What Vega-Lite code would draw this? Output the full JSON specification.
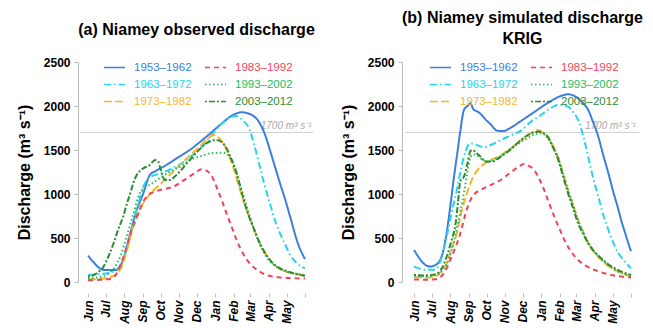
{
  "$schema": "https://vega.github.io/schema/vega-lite/v6.json",
  "autosize": "none",
  "padding": {"left": 88, "top": 62, "right": 565, "bottom": 266},
  "background": "white",
  "data": {"values": [
    {"p":"a","s":"1953–1962","d":0,"q":300},{"p":"a","s":"1953–1962","d":10,"q":220},{"p":"a","s":"1953–1962","d":20,"q":155},{"p":"a","s":"1953–1962","d":30,"q":135},{"p":"a","s":"1953–1962","d":48,"q":136},{"p":"a","s":"1953–1962","d":59,"q":250},{"p":"a","s":"1953–1962","d":71,"q":553},{"p":"a","s":"1953–1962","d":82,"q":818},{"p":"a","s":"1953–1962","d":93,"q":1008},{"p":"a","s":"1953–1962","d":104,"q":1216},{"p":"a","s":"1953–1962","d":115,"q":1265},{"p":"a","s":"1953–1962","d":132,"q":1330},{"p":"a","s":"1953–1962","d":149,"q":1405},{"p":"a","s":"1953–1962","d":171,"q":1500},{"p":"a","s":"1953–1962","d":199,"q":1651},{"p":"a","s":"1953–1962","d":222,"q":1784},{"p":"a","s":"1953–1962","d":244,"q":1898},{"p":"a","s":"1953–1962","d":258,"q":1928},{"p":"a","s":"1953–1962","d":272,"q":1909},{"p":"a","s":"1953–1962","d":289,"q":1803},{"p":"a","s":"1953–1962","d":298,"q":1670},{"p":"a","s":"1953–1962","d":306,"q":1500},{"p":"a","s":"1953–1962","d":314,"q":1320},{"p":"a","s":"1953–1962","d":323,"q":1121},{"p":"a","s":"1953–1962","d":332,"q":930},{"p":"a","s":"1953–1962","d":340,"q":742},{"p":"a","s":"1953–1962","d":353,"q":440},{"p":"a","s":"1953–1962","d":365,"q":260},
    {"p":"a","s":"1963–1972","d":0,"q":80},{"p":"a","s":"1963–1972","d":20,"q":90},{"p":"a","s":"1963–1972","d":40,"q":110},{"p":"a","s":"1963–1972","d":55,"q":200},{"p":"a","s":"1963–1972","d":65,"q":380},{"p":"a","s":"1963–1972","d":75,"q":640},{"p":"a","s":"1963–1972","d":85,"q":900},{"p":"a","s":"1963–1972","d":93,"q":1080},{"p":"a","s":"1963–1972","d":104,"q":1190},{"p":"a","s":"1963–1972","d":115,"q":1220},{"p":"a","s":"1963–1972","d":135,"q":1270},{"p":"a","s":"1963–1972","d":153,"q":1330},{"p":"a","s":"1963–1972","d":170,"q":1410},{"p":"a","s":"1963–1972","d":192,"q":1540},{"p":"a","s":"1963–1972","d":214,"q":1720},{"p":"a","s":"1963–1972","d":230,"q":1830},{"p":"a","s":"1963–1972","d":247,"q":1886},{"p":"a","s":"1963–1972","d":260,"q":1840},{"p":"a","s":"1963–1972","d":272,"q":1727},{"p":"a","s":"1963–1972","d":280,"q":1550},{"p":"a","s":"1963–1972","d":289,"q":1310},{"p":"a","s":"1963–1972","d":297,"q":1100},{"p":"a","s":"1963–1972","d":306,"q":894},{"p":"a","s":"1963–1972","d":314,"q":710},{"p":"a","s":"1963–1972","d":323,"q":553},{"p":"a","s":"1963–1972","d":332,"q":420},{"p":"a","s":"1963–1972","d":340,"q":307},{"p":"a","s":"1963–1972","d":352,"q":210},{"p":"a","s":"1963–1972","d":365,"q":155},
    {"p":"a","s":"1973–1982","d":0,"q":30},{"p":"a","s":"1973–1982","d":20,"q":35},{"p":"a","s":"1973–1982","d":40,"q":60},{"p":"a","s":"1973–1982","d":55,"q":150},{"p":"a","s":"1973–1982","d":65,"q":350},{"p":"a","s":"1973–1982","d":75,"q":600},{"p":"a","s":"1973–1982","d":85,"q":780},{"p":"a","s":"1973–1982","d":95,"q":920},{"p":"a","s":"1973–1982","d":101,"q":970},{"p":"a","s":"1973–1982","d":110,"q":1040},{"p":"a","s":"1973–1982","d":120,"q":1100},{"p":"a","s":"1973–1982","d":135,"q":1200},{"p":"a","s":"1973–1982","d":150,"q":1300},{"p":"a","s":"1973–1982","d":170,"q":1430},{"p":"a","s":"1973–1982","d":185,"q":1520},{"p":"a","s":"1973–1982","d":200,"q":1620},{"p":"a","s":"1973–1982","d":211,"q":1670},{"p":"a","s":"1973–1982","d":220,"q":1640},{"p":"a","s":"1973–1982","d":232,"q":1520},{"p":"a","s":"1973–1982","d":244,"q":1310},{"p":"a","s":"1973–1982","d":255,"q":1060},{"p":"a","s":"1973–1982","d":267,"q":818},{"p":"a","s":"1973–1982","d":278,"q":620},{"p":"a","s":"1973–1982","d":289,"q":440},{"p":"a","s":"1973–1982","d":300,"q":300},{"p":"a","s":"1973–1982","d":311,"q":212},{"p":"a","s":"1973–1982","d":325,"q":140},{"p":"a","s":"1973–1982","d":345,"q":99},{"p":"a","s":"1973–1982","d":365,"q":70},
    {"p":"a","s":"1983–1992","d":0,"q":20},{"p":"a","s":"1983–1992","d":20,"q":25},{"p":"a","s":"1983–1992","d":40,"q":40},{"p":"a","s":"1983–1992","d":50,"q":120},{"p":"a","s":"1983–1992","d":58,"q":250},{"p":"a","s":"1983–1992","d":65,"q":400},{"p":"a","s":"1983–1992","d":73,"q":580},{"p":"a","s":"1983–1992","d":82,"q":742},{"p":"a","s":"1983–1992","d":92,"q":900},{"p":"a","s":"1983–1992","d":101,"q":989},{"p":"a","s":"1983–1992","d":110,"q":1020},{"p":"a","s":"1983–1992","d":121,"q":1045},{"p":"a","s":"1983–1992","d":143,"q":1083},{"p":"a","s":"1983–1992","d":166,"q":1178},{"p":"a","s":"1983–1992","d":180,"q":1240},{"p":"a","s":"1983–1992","d":191,"q":1280},{"p":"a","s":"1983–1992","d":202,"q":1253},{"p":"a","s":"1983–1992","d":210,"q":1180},{"p":"a","s":"1983–1992","d":216,"q":1083},{"p":"a","s":"1983–1992","d":225,"q":930},{"p":"a","s":"1983–1992","d":233,"q":780},{"p":"a","s":"1983–1992","d":242,"q":620},{"p":"a","s":"1983–1992","d":250,"q":477},{"p":"a","s":"1983–1992","d":261,"q":320},{"p":"a","s":"1983–1992","d":272,"q":212},{"p":"a","s":"1983–1992","d":286,"q":130},{"p":"a","s":"1983–1992","d":300,"q":80},{"p":"a","s":"1983–1992","d":320,"q":55},{"p":"a","s":"1983–1992","d":340,"q":45},{"p":"a","s":"1983–1992","d":365,"q":40},
    {"p":"a","s":"1993–2002","d":0,"q":40},{"p":"a","s":"1993–2002","d":15,"q":50},{"p":"a","s":"1993–2002","d":30,"q":80},{"p":"a","s":"1993–2002","d":45,"q":170},{"p":"a","s":"1993–2002","d":55,"q":300},{"p":"a","s":"1993–2002","d":65,"q":520},{"p":"a","s":"1993–2002","d":75,"q":740},{"p":"a","s":"1993–2002","d":87,"q":1008},{"p":"a","s":"1993–2002","d":99,"q":1083},{"p":"a","s":"1993–2002","d":110,"q":1130},{"p":"a","s":"1993–2002","d":125,"q":1200},{"p":"a","s":"1993–2002","d":140,"q":1260},{"p":"a","s":"1993–2002","d":155,"q":1310},{"p":"a","s":"1993–2002","d":170,"q":1380},{"p":"a","s":"1993–2002","d":190,"q":1430},{"p":"a","s":"1993–2002","d":205,"q":1460},{"p":"a","s":"1993–2002","d":227,"q":1470},{"p":"a","s":"1993–2002","d":240,"q":1400},{"p":"a","s":"1993–2002","d":248,"q":1280},{"p":"a","s":"1993–2002","d":255,"q":1121},{"p":"a","s":"1993–2002","d":266,"q":880},{"p":"a","s":"1993–2002","d":278,"q":628},{"p":"a","s":"1993–2002","d":289,"q":430},{"p":"a","s":"1993–2002","d":300,"q":288},{"p":"a","s":"1993–2002","d":315,"q":180},{"p":"a","s":"1993–2002","d":334,"q":117},{"p":"a","s":"1993–2002","d":350,"q":95},{"p":"a","s":"1993–2002","d":365,"q":80},
    {"p":"a","s":"2003–2012","d":0,"q":60},{"p":"a","s":"2003–2012","d":15,"q":100},{"p":"a","s":"2003–2012","d":26,"q":174},{"p":"a","s":"2003–2012","d":35,"q":300},{"p":"a","s":"2003–2012","d":43,"q":440},{"p":"a","s":"2003–2012","d":51,"q":600},{"p":"a","s":"2003–2012","d":59,"q":742},{"p":"a","s":"2003–2012","d":65,"q":880},{"p":"a","s":"2003–2012","d":71,"q":1008},{"p":"a","s":"2003–2012","d":76,"q":1120},{"p":"a","s":"2003–2012","d":82,"q":1216},{"p":"a","s":"2003–2012","d":87,"q":1260},{"p":"a","s":"2003–2012","d":93,"q":1292},{"p":"a","s":"2003–2012","d":104,"q":1330},{"p":"a","s":"2003–2012","d":113,"q":1386},{"p":"a","s":"2003–2012","d":118,"q":1370},{"p":"a","s":"2003–2012","d":121,"q":1310},{"p":"a","s":"2003–2012","d":125,"q":1220},{"p":"a","s":"2003–2012","d":129,"q":1159},{"p":"a","s":"2003–2012","d":138,"q":1159},{"p":"a","s":"2003–2012","d":146,"q":1200},{"p":"a","s":"2003–2012","d":155,"q":1260},{"p":"a","s":"2003–2012","d":165,"q":1340},{"p":"a","s":"2003–2012","d":177,"q":1430},{"p":"a","s":"2003–2012","d":188,"q":1510},{"p":"a","s":"2003–2012","d":199,"q":1576},{"p":"a","s":"2003–2012","d":208,"q":1605},{"p":"a","s":"2003–2012","d":216,"q":1614},{"p":"a","s":"2003–2012","d":225,"q":1590},{"p":"a","s":"2003–2012","d":233,"q":1519},{"p":"a","s":"2003–2012","d":241,"q":1400},{"p":"a","s":"2003–2012","d":250,"q":1235},{"p":"a","s":"2003–2012","d":258,"q":1030},{"p":"a","s":"2003–2012","d":267,"q":818},{"p":"a","s":"2003–2012","d":278,"q":620},{"p":"a","s":"2003–2012","d":289,"q":440},{"p":"a","s":"2003–2012","d":300,"q":310},{"p":"a","s":"2003–2012","d":311,"q":212},{"p":"a","s":"2003–2012","d":325,"q":150},{"p":"a","s":"2003–2012","d":345,"q":100},{"p":"a","s":"2003–2012","d":365,"q":70},
    {"p":"b","s":"1953–1962","d":0,"q":364},{"p":"b","s":"1953–1962","d":8,"q":280},{"p":"b","s":"1953–1962","d":16,"q":212},{"p":"b","s":"1953–1962","d":27,"q":175},{"p":"b","s":"1953–1962","d":35,"q":190},{"p":"b","s":"1953–1962","d":41,"q":220},{"p":"b","s":"1953–1962","d":47,"q":300},{"p":"b","s":"1953–1962","d":54,"q":520},{"p":"b","s":"1953–1962","d":61,"q":856},{"p":"b","s":"1953–1962","d":66,"q":1130},{"p":"b","s":"1953–1962","d":72,"q":1424},{"p":"b","s":"1953–1962","d":78,"q":1720},{"p":"b","s":"1953–1962","d":84,"q":1955},{"p":"b","s":"1953–1962","d":90,"q":2000},{"p":"b","s":"1953–1962","d":95,"q":2030},{"p":"b","s":"1953–1962","d":100,"q":1960},{"p":"b","s":"1953–1962","d":106,"q":1940},{"p":"b","s":"1953–1962","d":112,"q":1910},{"p":"b","s":"1953–1962","d":120,"q":1850},{"p":"b","s":"1953–1962","d":129,"q":1790},{"p":"b","s":"1953–1962","d":140,"q":1720},{"p":"b","s":"1953–1962","d":150,"q":1715},{"p":"b","s":"1953–1962","d":163,"q":1755},{"p":"b","s":"1953–1962","d":180,"q":1830},{"p":"b","s":"1953–1962","d":202,"q":1930},{"p":"b","s":"1953–1962","d":225,"q":2035},{"p":"b","s":"1953–1962","d":247,"q":2114},{"p":"b","s":"1953–1962","d":259,"q":2133},{"p":"b","s":"1953–1962","d":268,"q":2120},{"p":"b","s":"1953–1962","d":276,"q":2087},{"p":"b","s":"1953–1962","d":285,"q":2030},{"p":"b","s":"1953–1962","d":293,"q":1955},{"p":"b","s":"1953–1962","d":301,"q":1820},{"p":"b","s":"1953–1962","d":310,"q":1651},{"p":"b","s":"1953–1962","d":318,"q":1450},{"p":"b","s":"1953–1962","d":327,"q":1235},{"p":"b","s":"1953–1962","d":335,"q":1030},{"p":"b","s":"1953–1962","d":344,"q":818},{"p":"b","s":"1953–1962","d":349,"q":690},{"p":"b","s":"1953–1962","d":355,"q":560},{"p":"b","s":"1953–1962","d":360,"q":450},{"p":"b","s":"1953–1962","d":365,"q":350},
    {"p":"b","s":"1963–1972","d":0,"q":174},{"p":"b","s":"1963–1972","d":10,"q":150},{"p":"b","s":"1963–1972","d":20,"q":140},{"p":"b","s":"1963–1972","d":35,"q":140},{"p":"b","s":"1963–1972","d":45,"q":250},{"p":"b","s":"1963–1972","d":55,"q":515},{"p":"b","s":"1963–1972","d":63,"q":780},{"p":"b","s":"1963–1972","d":72,"q":1045},{"p":"b","s":"1963–1972","d":78,"q":1250},{"p":"b","s":"1963–1972","d":84,"q":1424},{"p":"b","s":"1963–1972","d":90,"q":1540},{"p":"b","s":"1963–1972","d":95,"q":1576},{"p":"b","s":"1963–1972","d":100,"q":1570},{"p":"b","s":"1963–1972","d":106,"q":1555},{"p":"b","s":"1963–1972","d":112,"q":1540},{"p":"b","s":"1963–1972","d":120,"q":1535},{"p":"b","s":"1963–1972","d":130,"q":1560},{"p":"b","s":"1963–1972","d":146,"q":1614},{"p":"b","s":"1963–1972","d":163,"q":1665},{"p":"b","s":"1963–1972","d":180,"q":1720},{"p":"b","s":"1963–1972","d":197,"q":1822},{"p":"b","s":"1963–1972","d":212,"q":1890},{"p":"b","s":"1963–1972","d":225,"q":1955},{"p":"b","s":"1963–1972","d":235,"q":1995},{"p":"b","s":"1963–1972","d":242,"q":2011},{"p":"b","s":"1963–1972","d":250,"q":2008},{"p":"b","s":"1963–1972","d":259,"q":1992},{"p":"b","s":"1963–1972","d":268,"q":1930},{"p":"b","s":"1963–1972","d":276,"q":1841},{"p":"b","s":"1963–1972","d":285,"q":1650},{"p":"b","s":"1963–1972","d":293,"q":1424},{"p":"b","s":"1963–1972","d":301,"q":1190},{"p":"b","s":"1963–1972","d":310,"q":970},{"p":"b","s":"1963–1972","d":318,"q":770},{"p":"b","s":"1963–1972","d":327,"q":591},{"p":"b","s":"1963–1972","d":335,"q":450},{"p":"b","s":"1963–1972","d":344,"q":326},{"p":"b","s":"1963–1972","d":355,"q":230},{"p":"b","s":"1963–1972","d":365,"q":155},
    {"p":"b","s":"1973–1982","d":0,"q":60},{"p":"b","s":"1973–1982","d":15,"q":50},{"p":"b","s":"1973–1982","d":30,"q":55},{"p":"b","s":"1973–1982","d":45,"q":110},{"p":"b","s":"1973–1982","d":55,"q":212},{"p":"b","s":"1973–1982","d":63,"q":370},{"p":"b","s":"1973–1982","d":72,"q":553},{"p":"b","s":"1973–1982","d":80,"q":800},{"p":"b","s":"1973–1982","d":89,"q":1008},{"p":"b","s":"1973–1982","d":100,"q":1200},{"p":"b","s":"1973–1982","d":112,"q":1310},{"p":"b","s":"1973–1982","d":125,"q":1370},{"p":"b","s":"1973–1982","d":146,"q":1440},{"p":"b","s":"1973–1982","d":163,"q":1520},{"p":"b","s":"1973–1982","d":180,"q":1610},{"p":"b","s":"1973–1982","d":191,"q":1660},{"p":"b","s":"1973–1982","d":200,"q":1705},{"p":"b","s":"1973–1982","d":208,"q":1727},{"p":"b","s":"1973–1982","d":216,"q":1700},{"p":"b","s":"1973–1982","d":225,"q":1651},{"p":"b","s":"1973–1982","d":233,"q":1560},{"p":"b","s":"1973–1982","d":242,"q":1424},{"p":"b","s":"1973–1982","d":250,"q":1250},{"p":"b","s":"1973–1982","d":259,"q":1045},{"p":"b","s":"1973–1982","d":268,"q":870},{"p":"b","s":"1973–1982","d":276,"q":705},{"p":"b","s":"1973–1982","d":285,"q":560},{"p":"b","s":"1973–1982","d":293,"q":440},{"p":"b","s":"1973–1982","d":304,"q":330},{"p":"b","s":"1973–1982","d":315,"q":250},{"p":"b","s":"1973–1982","d":326,"q":185},{"p":"b","s":"1973–1982","d":338,"q":136},{"p":"b","s":"1973–1982","d":350,"q":100},{"p":"b","s":"1973–1982","d":365,"q":60},
    {"p":"b","s":"1983–1992","d":0,"q":30},{"p":"b","s":"1983–1992","d":20,"q":25},{"p":"b","s":"1983–1992","d":35,"q":30},{"p":"b","s":"1983–1992","d":45,"q":60},{"p":"b","s":"1983–1992","d":53,"q":130},{"p":"b","s":"1983–1992","d":61,"q":250},{"p":"b","s":"1983–1992","d":70,"q":400},{"p":"b","s":"1983–1992","d":78,"q":553},{"p":"b","s":"1983–1992","d":86,"q":760},{"p":"b","s":"1983–1992","d":95,"q":932},{"p":"b","s":"1983–1992","d":103,"q":1008},{"p":"b","s":"1983–1992","d":112,"q":1045},{"p":"b","s":"1983–1992","d":123,"q":1083},{"p":"b","s":"1983–1992","d":135,"q":1120},{"p":"b","s":"1983–1992","d":146,"q":1159},{"p":"b","s":"1983–1992","d":157,"q":1215},{"p":"b","s":"1983–1992","d":168,"q":1273},{"p":"b","s":"1983–1992","d":177,"q":1315},{"p":"b","s":"1983–1992","d":185,"q":1340},{"p":"b","s":"1983–1992","d":193,"q":1320},{"p":"b","s":"1983–1992","d":202,"q":1273},{"p":"b","s":"1983–1992","d":210,"q":1180},{"p":"b","s":"1983–1992","d":219,"q":1045},{"p":"b","s":"1983–1992","d":227,"q":900},{"p":"b","s":"1983–1992","d":236,"q":742},{"p":"b","s":"1983–1992","d":245,"q":600},{"p":"b","s":"1983–1992","d":253,"q":477},{"p":"b","s":"1983–1992","d":264,"q":350},{"p":"b","s":"1983–1992","d":276,"q":250},{"p":"b","s":"1983–1992","d":290,"q":180},{"p":"b","s":"1983–1992","d":304,"q":136},{"p":"b","s":"1983–1992","d":320,"q":100},{"p":"b","s":"1983–1992","d":340,"q":70},{"p":"b","s":"1983–1992","d":365,"q":50},
    {"p":"b","s":"1993–2002","d":0,"q":70},{"p":"b","s":"1993–2002","d":15,"q":65},{"p":"b","s":"1993–2002","d":30,"q":70},{"p":"b","s":"1993–2002","d":45,"q":110},{"p":"b","s":"1993–2002","d":55,"q":200},{"p":"b","s":"1993–2002","d":63,"q":360},{"p":"b","s":"1993–2002","d":70,"q":550},{"p":"b","s":"1993–2002","d":78,"q":800},{"p":"b","s":"1993–2002","d":85,"q":1050},{"p":"b","s":"1993–2002","d":90,"q":1250},{"p":"b","s":"1993–2002","d":95,"q":1420},{"p":"b","s":"1993–2002","d":100,"q":1450},{"p":"b","s":"1993–2002","d":106,"q":1440},{"p":"b","s":"1993–2002","d":115,"q":1390},{"p":"b","s":"1993–2002","d":125,"q":1370},{"p":"b","s":"1993–2002","d":146,"q":1430},{"p":"b","s":"1993–2002","d":160,"q":1500},{"p":"b","s":"1993–2002","d":175,"q":1570},{"p":"b","s":"1993–2002","d":190,"q":1630},{"p":"b","s":"1993–2002","d":200,"q":1670},{"p":"b","s":"1993–2002","d":210,"q":1690},{"p":"b","s":"1993–2002","d":218,"q":1680},{"p":"b","s":"1993–2002","d":225,"q":1640},{"p":"b","s":"1993–2002","d":233,"q":1550},{"p":"b","s":"1993–2002","d":242,"q":1420},{"p":"b","s":"1993–2002","d":250,"q":1250},{"p":"b","s":"1993–2002","d":259,"q":1050},{"p":"b","s":"1993–2002","d":268,"q":870},{"p":"b","s":"1993–2002","d":276,"q":700},{"p":"b","s":"1993–2002","d":285,"q":560},{"p":"b","s":"1993–2002","d":293,"q":450},{"p":"b","s":"1993–2002","d":304,"q":340},{"p":"b","s":"1993–2002","d":315,"q":260},{"p":"b","s":"1993–2002","d":326,"q":195},{"p":"b","s":"1993–2002","d":338,"q":140},{"p":"b","s":"1993–2002","d":350,"q":100},{"p":"b","s":"1993–2002","d":365,"q":70},
    {"p":"b","s":"2003–2012","d":0,"q":80},{"p":"b","s":"2003–2012","d":15,"q":75},{"p":"b","s":"2003–2012","d":30,"q":80},{"p":"b","s":"2003–2012","d":40,"q":100},{"p":"b","s":"2003–2012","d":48,"q":170},{"p":"b","s":"2003–2012","d":55,"q":288},{"p":"b","s":"2003–2012","d":63,"q":470},{"p":"b","s":"2003–2012","d":70,"q":667},{"p":"b","s":"2003–2012","d":74,"q":900},{"p":"b","s":"2003–2012","d":78,"q":1150},{"p":"b","s":"2003–2012","d":84,"q":1197},{"p":"b","s":"2003–2012","d":90,"q":1350},{"p":"b","s":"2003–2012","d":95,"q":1490},{"p":"b","s":"2003–2012","d":99,"q":1500},{"p":"b","s":"2003–2012","d":103,"q":1480},{"p":"b","s":"2003–2012","d":108,"q":1450},{"p":"b","s":"2003–2012","d":112,"q":1424},{"p":"b","s":"2003–2012","d":116,"q":1390},{"p":"b","s":"2003–2012","d":120,"q":1370},{"p":"b","s":"2003–2012","d":132,"q":1370},{"p":"b","s":"2003–2012","d":146,"q":1424},{"p":"b","s":"2003–2012","d":163,"q":1510},{"p":"b","s":"2003–2012","d":180,"q":1614},{"p":"b","s":"2003–2012","d":197,"q":1690},{"p":"b","s":"2003–2012","d":204,"q":1705},{"p":"b","s":"2003–2012","d":211,"q":1710},{"p":"b","s":"2003–2012","d":218,"q":1690},{"p":"b","s":"2003–2012","d":225,"q":1650},{"p":"b","s":"2003–2012","d":233,"q":1540},{"p":"b","s":"2003–2012","d":242,"q":1400},{"p":"b","s":"2003–2012","d":250,"q":1220},{"p":"b","s":"2003–2012","d":259,"q":1010},{"p":"b","s":"2003–2012","d":268,"q":830},{"p":"b","s":"2003–2012","d":276,"q":667},{"p":"b","s":"2003–2012","d":285,"q":540},{"p":"b","s":"2003–2012","d":293,"q":440},{"p":"b","s":"2003–2012","d":304,"q":340},{"p":"b","s":"2003–2012","d":315,"q":270},{"p":"b","s":"2003–2012","d":326,"q":205},{"p":"b","s":"2003–2012","d":338,"q":155},{"p":"b","s":"2003–2012","d":350,"q":115},{"p":"b","s":"2003–2012","d":365,"q":80}
  ]},
  "bounds": "flush",
  "spacing": 109,
  "hconcat": [
    {
      "width": 217, "height": 220,
      "title": {"text": "(a) Niamey observed discharge", "frame": "group", "offset": 18, "anchor": "middle", "fontSize": 16, "fontWeight": "bold"},
      "layer": [
        {"data": {"values": [{"t": 1700}]}, "mark": {"type": "rule", "color": "#cccccc", "strokeWidth": 1},
         "encoding": {"y": {"field": "t", "type": "quantitative", "scale": {"domain": [0, 2500], "nice": false}}, "x": {"datum": -14, "scale": {"domain": [0, 365], "nice": false}}, "x2": {"datum": 379}}},
        {"data": {"values": [{"t": 1700, "lab": "1700 m³ s⁻¹"}]}, "mark": {"type": "text", "align": "right", "baseline": "bottom", "dy": -1, "fontSize": 10, "fontStyle": "italic", "color": "#a8a8a8"},
         "encoding": {"y": {"field": "t", "type": "quantitative"}, "x": {"datum": 376}, "text": {"field": "lab"}}},
        {"transform": [{"filter": "datum.p === 'a'"}],
         "mark": {"type": "line", "strokeWidth": 2, "interpolate": "monotone"},
         "encoding": {
           "x": {"field": "d", "type": "quantitative", "scale": {"domain": [0, 365], "nice": false},
                 "axis": {"values": [0,30,61,92,122,153,183,214,245,273,304,334,365], "tickCount": 20, "labelExpr": "datum.value >= 365 ? '' : ['Jun','Jul','Aug','Sep','Oct','Nov','Dec','Jan','Feb','Mar','Apr','May'][indexof([0,30,61,92,122,153,183,214,245,273,304,334], datum.value)]", "labelOverlap": false, "labelBound": false, "labelFlush": false, "labelAngle": 270, "labelFontStyle": "italic", "labelFontWeight": "bold", "labelFontSize": 12, "labelColor": "#000", "title": null, "offset": 11, "grid": false, "domain": false, "tickColor": "#c0c0c0", "tickSize": 4, "labelPadding": 3}},
           "y": {"field": "q", "type": "quantitative", "scale": {"domain": [0, 2500], "nice": false},
                 "axis": {"values": [0,500,1000,1500,2000,2500], "tickCount": 10, "format": "d", "title": "Discharge (m³ s⁻¹)", "titleFontSize": 16, "titleFontWeight": "bold", "titleColor": "#000", "titlePadding": 11, "labelFontSize": 12, "labelFontWeight": "bold", "labelColor": "#000", "offset": 10, "grid": false, "domainColor": "#bbbbbb", "tickColor": "#bbbbbb", "tickSize": 4, "labelPadding": 4}},
           "color": {"field": "s", "type": "nominal",
                     "scale": {"domain": ["1953–1962","1963–1972","1973–1982","1983–1992","1993–2002","2003–2012"], "range": ["#3a7fe0","#25d4ee","#f7b529","#f04458","#22bd5a","#2e8a34"]},
                     "legend": {"orient": "none", "legendX": 15, "legendY": -6, "columns": 2, "title": null, "symbolType": "stroke", "symbolSize": 441, "symbolStrokeWidth": 1.5, "labelFontSize": 11.5, "columnPadding": 10, "rowPadding": -7, "labelOffset": 8,
                                "encode": {"labels": {"update": {"fill": {"signal": "datum.value === '1953–1962' ? '#3a7fe0' : datum.value === '1983–1992' ? '#f04458' : datum.value === '1963–1972' ? '#25d4ee' : datum.value === '1993–2002' ? '#22bd5a' : datum.value === '1973–1982' ? '#f7b529' : '#2e8a34'"}}}}}},
           "strokeDash": {"field": "s", "type": "nominal",
                     "scale": {"domain": ["1953–1962","1963–1972","1973–1982","1983–1992","1993–2002","2003–2012"], "range": [[1,0],[7,3,1.5,3],[8,3],[5,4],[1.5,2.5],[2,2,6,2]]},
                     "legend": {"orient": "none", "legendX": 15, "legendY": -6, "columns": 2, "title": null, "symbolType": "stroke", "symbolSize": 441, "symbolStrokeWidth": 1.5, "labelFontSize": 11.5, "columnPadding": 10, "rowPadding": -7, "labelOffset": 8}}
         }}
      ]
    },
    {
      "width": 217, "height": 220,
      "title": {"text": ["(b) Niamey simulated discharge", "KRIG"], "frame": "group", "offset": 9, "anchor": "middle", "fontSize": 16, "fontWeight": "bold", "lineHeight": 21},
      "layer": [
        {"data": {"values": [{"t": 1700}]}, "mark": {"type": "rule", "color": "#cccccc", "strokeWidth": 1},
         "encoding": {"y": {"field": "t", "type": "quantitative", "scale": {"domain": [0, 2500], "nice": false}}, "x": {"datum": -14, "scale": {"domain": [0, 365], "nice": false}}, "x2": {"datum": 379}}},
        {"data": {"values": [{"t": 1700, "lab": "1700 m³ s⁻¹"}]}, "mark": {"type": "text", "align": "right", "baseline": "bottom", "dy": -1, "fontSize": 10, "fontStyle": "italic", "color": "#a8a8a8"},
         "encoding": {"y": {"field": "t", "type": "quantitative"}, "x": {"datum": 373}, "text": {"field": "lab"}}},
        {"transform": [{"filter": "datum.p === 'b'"}],
         "mark": {"type": "line", "strokeWidth": 2, "interpolate": "monotone"},
         "encoding": {
           "x": {"field": "d", "type": "quantitative", "scale": {"domain": [0, 365], "nice": false},
                 "axis": {"values": [0,30,61,92,122,153,183,214,245,273,304,334,365], "tickCount": 20, "labelExpr": "datum.value >= 365 ? '' : ['Jun','Jul','Aug','Sep','Oct','Nov','Dec','Jan','Feb','Mar','Apr','May'][indexof([0,30,61,92,122,153,183,214,245,273,304,334], datum.value)]", "labelOverlap": false, "labelBound": false, "labelFlush": false, "labelAngle": 270, "labelFontStyle": "italic", "labelFontWeight": "bold", "labelFontSize": 12, "labelColor": "#000", "title": null, "offset": 11, "grid": false, "domain": false, "tickColor": "#c0c0c0", "tickSize": 4, "labelPadding": 3}},
           "y": {"field": "q", "type": "quantitative", "scale": {"domain": [0, 2500], "nice": false},
                 "axis": {"values": [0,500,1000,1500,2000,2500], "tickCount": 10, "format": "d", "title": "Discharge (m³ s⁻¹)", "titleFontSize": 16, "titleFontWeight": "bold", "titleColor": "#000", "titlePadding": 11, "labelFontSize": 12, "labelFontWeight": "bold", "labelColor": "#000", "offset": 12, "grid": false, "domainColor": "#bbbbbb", "tickColor": "#bbbbbb", "tickSize": 4, "labelPadding": 4}},
           "color": {"field": "s", "type": "nominal",
                     "scale": {"domain": ["1953–1962","1963–1972","1973–1982","1983–1992","1993–2002","2003–2012"], "range": ["#3a7fe0","#25d4ee","#f7b529","#f04458","#22bd5a","#2e8a34"]},
                     "legend": {"orient": "none", "legendX": 15, "legendY": -6, "columns": 2, "title": null, "symbolType": "stroke", "symbolSize": 441, "symbolStrokeWidth": 1.5, "labelFontSize": 11.5, "columnPadding": 10, "rowPadding": -7, "labelOffset": 8,
                                "encode": {"labels": {"update": {"fill": {"signal": "datum.value === '1953–1962' ? '#3a7fe0' : datum.value === '1983–1992' ? '#f04458' : datum.value === '1963–1972' ? '#25d4ee' : datum.value === '1993–2002' ? '#22bd5a' : datum.value === '1973–1982' ? '#f7b529' : '#2e8a34'"}}}}}},
           "strokeDash": {"field": "s", "type": "nominal",
                     "scale": {"domain": ["1953–1962","1963–1972","1973–1982","1983–1992","1993–2002","2003–2012"], "range": [[1,0],[7,3,1.5,3],[8,3],[5,4],[1.5,2.5],[2,2,6,2]]},
                     "legend": {"orient": "none", "legendX": 15, "legendY": -6, "columns": 2, "title": null, "symbolType": "stroke", "symbolSize": 441, "symbolStrokeWidth": 1.5, "labelFontSize": 11.5, "columnPadding": 10, "rowPadding": -7, "labelOffset": 8}}
         }}
      ]
    }
  ],
  "resolve": {"scale": {"color": "independent", "strokeDash": "independent"}, "legend": {"color": "independent", "strokeDash": "independent"}},
  "config": {
    "font": "Liberation Sans",
    "view": {"stroke": null},
    "title": {"font": "Liberation Sans", "color": "#000"},
    "axis": {"labelFont": "Liberation Sans", "titleFont": "Liberation Sans"},
    "legend": {"labelFont": "Liberation Sans"}
  }
}
